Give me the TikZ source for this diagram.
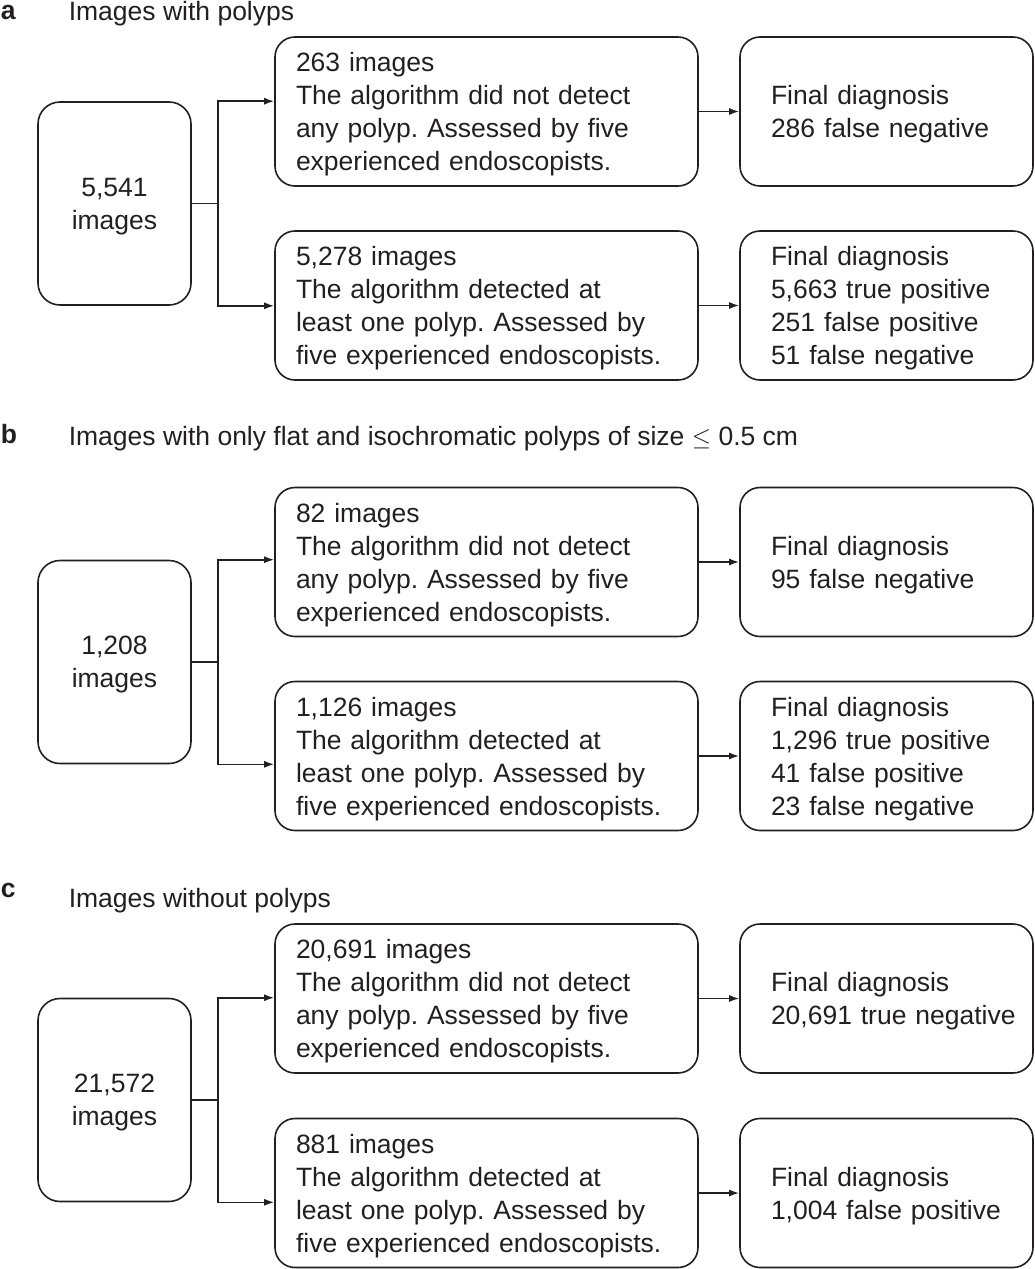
\documentclass[tikz,border=0pt]{standalone}
\usepackage{fontspec}
\setmainfont{Liberation Sans}
\usetikzlibrary{arrows.meta,positioning}
\definecolor{ink}{RGB}{35,31,32}
\begin{document}
\begin{tikzpicture}[x=1pt,y=-1pt,line width=1.6pt,draw=ink,>={Latex[length=10pt,width=7pt]},
		every node/.style={text=ink,font=\fontsize{26.5}{33}\selectfont\frenchspacing},
		total/.style={draw,rounded corners=22pt,minimum width=153pt,minimum height=203pt,align=center,inner sep=0pt,text depth=0pt},
		algo/.style={draw,rounded corners=20pt,text width=381pt,inner xsep=21pt,inner ysep=0pt,minimum height=149pt,align=left,execute at begin node={\rule{0pt}{25pt}}},
		final/.style={draw,rounded corners=20pt,text width=231pt,inner xsep=31pt,inner ysep=0pt,minimum height=149pt,align=left,execute at begin node={\rule{0pt}{25pt}}},
		panel/.style={anchor=base west,inner sep=0pt,font=\fontsize{26.5}{33}\selectfont\bfseries},
		heading/.style={anchor=base west,inner sep=0pt}]
	\useasboundingbox (0,0) rectangle (1035,1269);
	% a: images with polyps
	\node[panel] (labA) at (0,19) {a};
	\node[heading] (headA) at (68,20) {Images with polyps};
	\node[total] (allA) at (114.5,203.5) {5,541\\images};
	\node[algo] (missA) at (486.5,111.5) {263 images\\The algorithm did not detect\\any polyp. Assessed by five\\experienced endoscopists.};
	\node[algo] (hitA) at (486.5,305.5) {5,278 images\\The algorithm detected at\\least one polyp. Assessed by\\five experienced endoscopists.};
	\node[final] (resMissA) at (886.5,111.5) {Final diagnosis\\286 false negative};
	\node[final] (resHitA) at (886.5,305.5) {Final diagnosis\\5,663 true positive\\251 false positive\\51 false negative};
	\draw[->] (allA.east) -- ++(26,0) |- (allA.north -| missA.west);
	\draw[->] (allA.east) -- ++(26,0) |- (allA.south -| hitA.west);
	\draw[->] (missA.east) -- (resMissA.west);
	\draw[->] (hitA.east) -- (resHitA.west);
	% b: flat and isochromatic polyps
	\node[panel] (labB) at (0,443) {b};
	\node[heading] (headB) at (68,445) {Images with only flat and isochromatic polyps of size $\leq$ 0.5 cm};
	\node[total] (allB) at (114.5,662) {1,208\\images};
	\node[algo] (missB) at (486.5,562) {82 images\\The algorithm did not detect\\any polyp. Assessed by five\\experienced endoscopists.};
	\node[algo] (hitB) at (486.5,756) {1,126 images\\The algorithm detected at\\least one polyp. Assessed by\\five experienced endoscopists.};
	\node[final] (resMissB) at (886.5,562) {Final diagnosis\\95 false negative};
	\node[final] (resHitB) at (886.5,756) {Final diagnosis\\1,296 true positive\\41 false positive\\23 false negative};
	\draw[->] (allB.east) -- ++(26,0) |- (allB.north -| missB.west);
	\draw[->] (allB.east) -- ++(26,0) |- (allB.south -| hitB.west);
	\draw[->] (missB.east) -- (resMissB.west);
	\draw[->] (hitB.east) -- (resHitB.west);
	% c: images without polyps
	\node[panel] (labC) at (0,897) {c};
	\node[heading] (headC) at (68,907) {Images without polyps};
	\node[total] (allC) at (114.5,1100) {21,572\\images};
	\node[algo] (missC) at (486.5,998.5) {20,691 images\\The algorithm did not detect\\any polyp. Assessed by five\\experienced endoscopists.};
	\node[algo] (hitC) at (486.5,1193) {881 images\\The algorithm detected at\\least one polyp. Assessed by\\five experienced endoscopists.};
	\node[final] (resMissC) at (886.5,998.5) {Final diagnosis\\\mbox{20,691 true negative}};
	\node[final] (resHitC) at (886.5,1193) {Final diagnosis\\1,004 false positive};
	\draw[->] (allC.east) -- ++(26,0) |- (allC.north -| missC.west);
	\draw[->] (allC.east) -- ++(26,0) |- (allC.south -| hitC.west);
	\draw[->] (missC.east) -- (resMissC.west);
	\draw[->] (hitC.east) -- (resHitC.west);
\end{tikzpicture}
\end{document}
